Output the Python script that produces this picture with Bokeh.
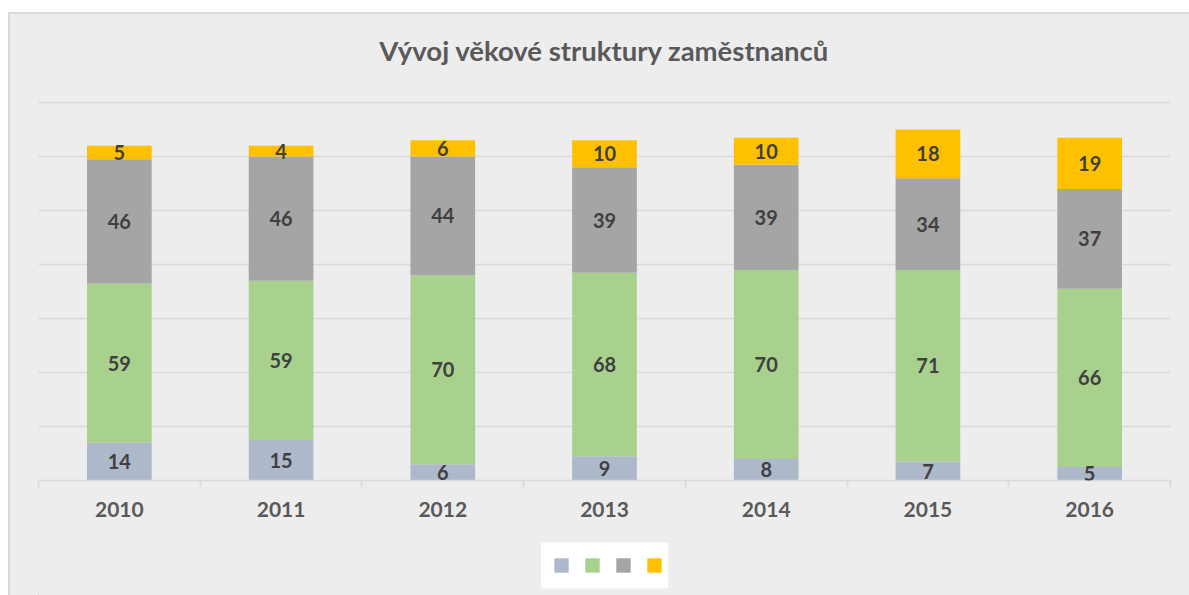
from bokeh.plotting import figure
from bokeh.layouts import column
from bokeh.models import (ColumnDataSource, FixedTicker, Range1d, Legend, LegendItem,
                          LabelSet)
from bokeh.core.properties import value
from bokeh.embed import file_html
from bokeh.resources import INLINE

# ---- data ----
title_text = "Vývoj věkové struktury zaměstnanců"
years = ["2010", "2011", "2012", "2013", "2014", "2015", "2016"]
s1 = [14, 15, 6, 9, 8, 7, 5]        # blue-gray
s2 = [59, 59, 70, 68, 70, 71, 66]   # green
s3 = [46, 46, 44, 39, 39, 34, 37]   # gray
s4 = [5, 4, 6, 10, 10, 18, 19]      # gold
series = [s1, s2, s3, s4]
colors = ["#ADB9CA", "#A9D18E", "#A5A5A5", "#FFC000"]

BG = "#EDEDED"
FONT = "Lato"
W = 1179
BL, BR = 28, 19            # left / right borders shared by all strips
FW = W - BL - BR           # frame width in px

xs = list(range(len(years)))

# ---- main chart ----
p = figure(width=W, height=430, output_backend="svg", toolbar_location=None,
           x_range=Range1d(-0.5, len(years) - 0.5), y_range=Range1d(0, 140.4),
           min_border_left=BL, min_border_right=BR, min_border_top=1,
           min_border_bottom=50,
           background_fill_color=BG, border_fill_color=BG)
p.outline_line_color = None

renderers = []
bottom = [0] * len(years)
label_x, label_y, label_t = [], [], []
for vals, col in zip(series, colors):
    top = [b + v for b, v in zip(bottom, vals)]
    src = ColumnDataSource(dict(x=xs, bottom=bottom, top=top))
    r = p.vbar(x="x", bottom="bottom", top="top", width=0.4, source=src,
               fill_color=col, line_color=None)
    renderers.append(r)
    for i, v in enumerate(vals):
        label_x.append(xs[i])
        label_y.append(bottom[i] + v / 2)
        label_t.append(str(v))
    bottom = top

lsrc = ColumnDataSource(dict(x=label_x, y=label_y, t=label_t))
labels = LabelSet(x="x", y="y", text="t", source=lsrc, text_align="center",
                  text_baseline="middle", text_font=value(FONT),
                  text_font_size=value("20px"),
                  text_font_style=value("bold"), text_color=value("#404040"))
p.add_layout(labels)

p.xaxis.ticker = FixedTicker(ticks=xs, minor_ticks=[i - 0.5 for i in range(len(years) + 1)])
p.xaxis.major_label_overrides = {i: y for i, y in zip(xs, years)}
p.xaxis.major_tick_line_color = None
p.xaxis.major_tick_out = 0
p.xaxis.major_tick_in = 0
p.xaxis.minor_tick_line_color = "#D9D9D9"
p.xaxis.minor_tick_line_width = 1.5
p.xaxis.minor_tick_out = 7
p.xaxis.minor_tick_in = 0
p.xaxis.axis_line_color = "#D9D9D9"
p.xaxis.axis_line_width = 1.5
p.xaxis.major_label_standoff = 14
p.xaxis.major_label_text_font = FONT
p.xaxis.major_label_text_font_size = "21px"
p.xaxis.major_label_text_font_style = "bold"
p.xaxis.major_label_text_color = "#595959"
p.xgrid.visible = False

p.yaxis.ticker = FixedTicker(ticks=list(range(0, 141, 20)))
p.yaxis.visible = False
p.ygrid.grid_line_color = "#D9D9D9"
p.ygrid.grid_line_width = 1.5

# ---- title strip ----
p0 = figure(width=W, height=86, output_backend="svg", toolbar_location=None,
            x_range=p.x_range, y_range=Range1d(0, 1),
            x_axis_location=None, y_axis_location=None,
            min_border_left=BL, min_border_right=BR, min_border_top=0,
            min_border_bottom=0,
            background_fill_color=BG, border_fill_color=BG)
p0.outline_line_color = None
p0.grid.visible = False
p0.text(x=[(len(years) - 1) / 2], y=[0.58], text=[title_text],
        text_align="center", text_baseline="middle", text_font=value(FONT),
        text_font_size="27.5px", text_font_style="bold", text_color="#595959")

# ---- legend strip: ranges in pixels of this strip's frame ----
LEG_W, LEG_H, LEG_BOTTOM = 127, 46, 7
GLYPH = 18   # bokeh insets area glyphs by 10% per side -> ~14px squares
p2 = figure(width=W, height=65, output_backend="svg", toolbar_location=None,
            x_range=Range1d(0, FW), y_range=Range1d(0, 65),
            x_axis_location=None, y_axis_location=None,
            min_border_left=BL, min_border_right=BR,
            min_border_top=0, min_border_bottom=0,
            background_fill_color=BG, border_fill_color=BG)
p2.outline_line_color = None
p2.grid.visible = False
cx = FW / 2
p2.quad(left=[cx - LEG_W / 2], right=[cx + LEG_W / 2], bottom=[LEG_BOTTOM],
        top=[LEG_BOTTOM + LEG_H], fill_color="white", line_color=None)
leg_renderers = [p2.vbar(x=[-100], top=[1], width=1, fill_color=c, line_color=None)
                 for c in colors]
legend = Legend(items=[LegendItem(label=" ", renderers=[r]) for r in leg_renderers],
                orientation="horizontal",
                location=(round(cx - LEG_W / 2 + 11), LEG_BOTTOM + 14),
                glyph_width=GLYPH, glyph_height=GLYPH, label_width=3,
                label_height=GLYPH, label_standoff=0, spacing=10, padding=0,
                margin=0, label_text_font_size="10px", border_line_color=None,
                background_fill_alpha=0.0)
p2.add_layout(legend, "center")

layout = column(p0, p, p2, spacing=0,
                styles={"margin-top": "12px", "margin-left": "8px",
                        "border-left": "2px solid #D9D9D9",
                        "border-top": "2px solid #D9D9D9",
                        "background-color": BG})
open("out.html", "w").write(file_html(layout, INLINE))
